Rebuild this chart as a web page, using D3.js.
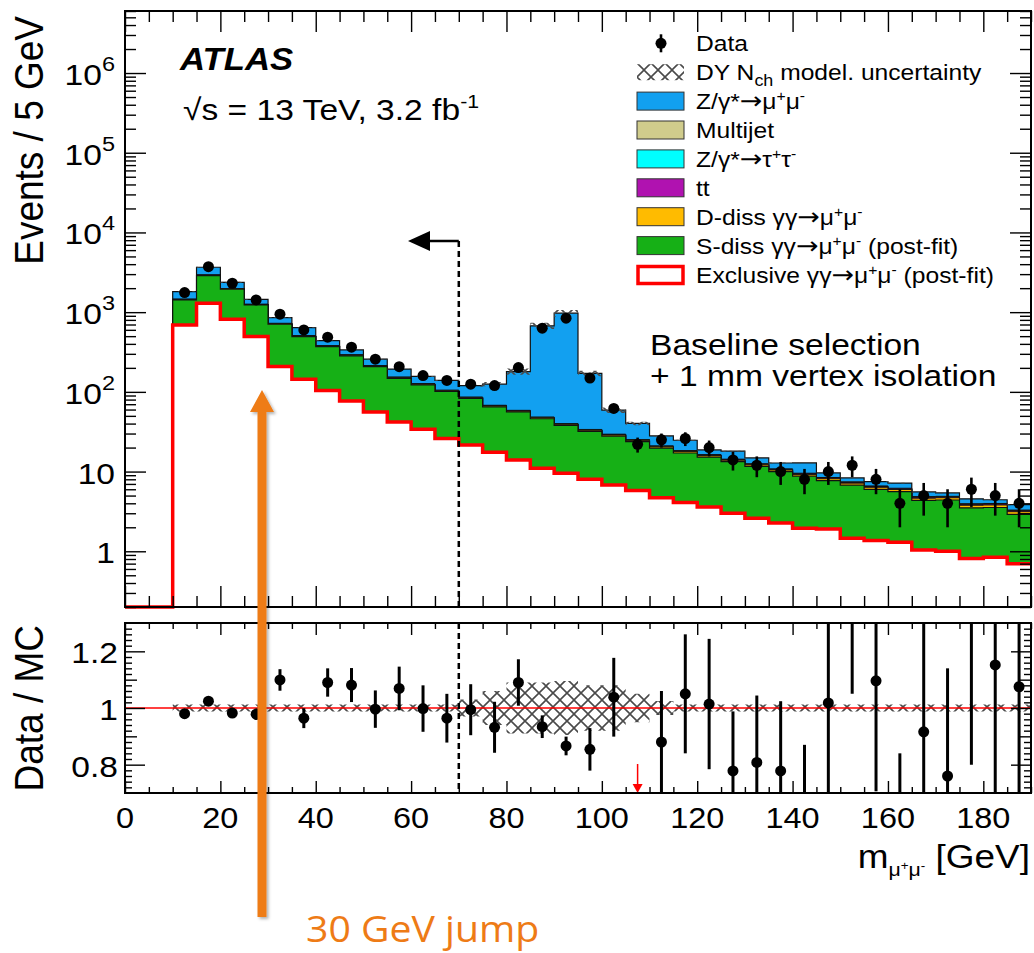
<!DOCTYPE html>
<html>
<head>
<meta charset="utf-8">
<script src="https://cdn.jsdelivr.net/npm/d3@7"></script>
<style>
  body { margin: 0; background: #fff; }
  svg { display: block; }
  text { font-family: 'Liberation Sans', Arial, Helvetica, sans-serif; fill: #000; }
</style>
</head>
<body>
<svg id="chart" width="1034" height="953"></svg>
<script>
// 5 GeV bins from 0 to 190 GeV
const binLow = d3.range(0, 190, 5);

// stacked MC contributions (events / 5 GeV), bottom of stack first
const exclusive = [0, 0, 692, 1290, 815, 495, 208, 144, 104, 77, 56, 42, 34, 26, 21.6, 17.5, 14, 11, 9.55, 8.0,
  6.8, 5.8, 4.7, 4.1, 3.6, 3.0, 2.6, 2.26, 1.95, 1.9, 1.46, 1.37, 1.3, 1.04, 1.0, 0.81, 0.84, 0.70];
const sDiss = [0, 0, 733, 1580, 1125, 735, 499, 349, 266, 206, 151, 106, 88, 75, 61, 47.5, 42, 35, 28.5, 24,
  21, 18, 15, 13, 11.6, 10.3, 9.0, 7.7, 6.8, 5.8, 5.3, 4.6, 4.3, 3.3, 3.4, 2.7, 2.7, 2.2];
const dDiss = [0, 0, 20, 40, 28, 18, 11, 8, 6, 5, 3.8, 2.9, 2.5, 2.2, 1.9, 1.6, 1.5, 1.3, 1.15, 1.0,
  0.95, 0.85, 0.75, 0.7, 0.65, 0.6, 0.55, 0.5, 0.47, 0.43, 0.4, 0.38, 0.35, 0.3, 0.3, 0.27, 0.27, 0.24];
const ttbar = [0, 0, 0.1, 0.15, 0.2, 0.2, 0.25, 0.3, 0.3, 0.3, 0.3, 0.3, 0.3, 0.3, 0.3, 0.3, 0.3, 0.28, 0.27, 0.26,
  0.25, 0.24, 0.23, 0.22, 0.21, 0.2, 0.19, 0.18, 0.17, 0.16, 0.15, 0.14, 0.13, 0.12, 0.11, 0.1, 0.1, 0.09];
const zTauTau = [0, 0, 3, 4, 4, 3.5, 3, 2.5, 2.2, 1.8, 1.5, 1.2, 1.0, 0.8, 0.6, 0.5, 0.4, 0.3, 0.25, 0.2,
  0.15, 0.12, 0.1, 0.08, 0.06, 0.05, 0.04, 0.04, 0.03, 0.03, 0.02, 0.02, 0.02, 0.02, 0.01, 0.01, 0.01, 0.01];
const multijet = [0, 0, 8, 12, 8, 5, 3, 2.5, 2, 1.5, 1.2, 1.0, 0.8, 0.7, 0.6, 0.5, 0.45, 0.4, 0.35, 0.3,
  0.3, 0.25, 0.22, 0.2, 0.18, 0.16, 0.15, 0.13, 0.12, 0.11, 0.1, 0.09, 0.08, 0.07, 0.07, 0.06, 0.06, 0.05];
const zMuMu = [0, 0, 354, 734, 390, 193, 131, 134, 59.5, 44.4, 43.2, 39.6, 29.4, 34, 33.6, 57.1, 121, 625, 930, 137,
  29.4, 15, 7.0, 6.4, 2.4, 3.7, 2.3, 2.0, 3.3, 1.2, 0.9, 0.9, 1.0, 0.7, 0.5, 0.6, 0.45, 0.55];

// relative DY Nch model uncertainty
const dyUnc = [0, 0, 0.012, 0.012, 0.012, 0.012, 0.012, 0.012, 0.012, 0.012, 0.012, 0.012, 0.012, 0.012, 0.03, 0.06,
  0.09, 0.09, 0.095, 0.08, 0.08, 0.05, 0.025, 0.012, 0.012, 0.012, 0.012, 0.012, 0.012, 0.012, 0.012, 0.012,
  0.012, 0.012, 0.012, 0.012, 0.012, 0.012];

// data
const dataVals = [null, null, 1760, 3720, 2305, 1425, 942, 598, 485, 364, 257, 207, 160, 139, 125, 120, 202, 629, 840, 149,
  62, 22, 25, 26, 20, 14, 12, 10, 8, 10, 12, 8, 4, 5, 4, 6, 5, 4];
const dataErr = [null, null, 42, 61, 48, 38, 31, 24, 22, 19, 16, 14.4, 12.6, 11.8, 11.2, 11, 14.2, 25, 29, 12.2,
  7.9, 4.7, 5, 5.1, 4.5, 3.7, 3.5, 3.2, 2.8, 3.2, 3.5, 2.8, 2, 2.2, 2, 2.4, 2.2, 2];

// data / MC ratio
const ratioVals = [null, null, 0.98, 1.024, 0.982, 0.978, 1.099, 0.964, 1.09, 1.081, 0.996, 1.069, 0.998, 0.964, 0.994, 0.932,
  1.09, 0.934, 0.866, 0.854, 1.038, 0.55, 0.88, 1.05, 1.014, 0.778, 0.808, 0.778, 0.63, 1.018, 1.52, 1.096,
  0.57, 0.916, 0.76, 1.4, 1.152, 1.075];
const ratioErr = [null, null, 0.015, 0.01, 0.012, 0.02, 0.038, 0.035, 0.05, 0.06, 0.066, 0.077, 0.082, 0.086, 0.09, 0.09,
  0.082, 0.04, 0.033, 0.075, 0.139, 0.12, 0.18, 0.21, 0.23, 0.21, 0.236, 0.246, 0.24, 0.33, 0.47, 0.39,
  0.27, 0.41, 0.38, 0.6, 0.53, 0.55];
const ratioArrows = [107.5];

const xMajor = [0, 20, 40, 60, 80, 100, 120, 140, 160, 180];
const yDecades = [1, 10, 1e2, 1e3, 1e4, 1e5, 1e6];
const ratioMajor = [0.8, 1.0, 1.2];
const ratioLabels = ['0.8', '1', '1.2'];

const SX = 1.12; // horizontal stretch of the original figure text

const svg = d3.select('#chart');
const defs = svg.append('defs');

const x = d3.scaleLinear().domain([0, 190]).range([125, 1031]);
const y = d3.scaleLog().domain([0.2, 6e6]).range([607, 11]);
const yr = d3.scaleLinear().domain([0.7, 1.3]).range([793, 623]);

// hatch pattern for the DY uncertainty
defs.append('pattern')
    .attr('id', 'hatch')
    .attr('patternUnits', 'userSpaceOnUse')
    .attr('width', 14).attr('height', 14)
  .append('path')
    .attr('d', 'M0,0L14,14M14,0L0,14')
    .attr('stroke', '#4a4a4a').attr('stroke-width', 1.6).attr('fill', 'none');

defs.append('clipPath').attr('id', 'clipMain')
  .append('rect').attr('x', 125).attr('y', 11).attr('width', 906).attr('height', 600);
defs.append('clipPath').attr('id', 'clipRatio')
  .append('rect').attr('x', 125).attr('y', 623).attr('width', 906).attr('height', 170);

const shadow = defs.append('filter').attr('id', 'shadow')
    .attr('x', '-50%').attr('y', '-10%').attr('width', '200%').attr('height', '120%');
shadow.append('feDropShadow').attr('dx', 2).attr('dy', 2).attr('stdDeviation', 1.5)
    .attr('flood-color', '#000').attr('flood-opacity', 0.3);

// text helper: parts are {t, fs, off, ff} with off = baseline offset (down positive)
function richText(g, tx, ty, parts, opt) {
  opt = opt || {};
  const size = opt.size || 20;
  let tr = `translate(${tx},${ty}) scale(${opt.sx || SX},1)`;
  if (opt.rotate) tr += ' rotate(-90)';
  const t = g.append('text')
      .attr('transform', tr)
      .attr('font-size', size)
      .attr('text-anchor', opt.anchor || 'start');
  if (opt.weight) t.attr('font-weight', opt.weight);
  if (opt.italic) t.attr('font-style', 'italic');
  if (opt.fill) t.style('fill', opt.fill);
  if (opt.family) t.style('font-family', opt.family);
  let cur = 0;
  parts.forEach(p => {
    if (typeof p === 'string') p = { t: p };
    const off = p.off || 0;
    const ts = t.append('tspan')
        .attr('dy', off - cur)
        .attr('font-size', p.fs || size)
        .text(p.t);
    if (p.ff) ts.style('font-family', p.ff);
    cur = off;
  });
  return t;
}
const ARROW = { t: '→', ff: "'DejaVu Sans', sans-serif", fs: 24 };

// ---------- main panel ----------
const main = svg.append('g').attr('clip-path', 'url(#clipMain)');

const layers = [
  { key: 'excl', values: exclusive, fill: '#ffffff', stroke: '#ff0000', sw: 3.5 },
  { key: 'sdiss', values: sDiss, fill: '#16b016', stroke: '#111', sw: 1.2 },
  { key: 'ddiss', values: dDiss, fill: '#ffbb00', stroke: '#111', sw: 1 },
  { key: 'tt', values: ttbar, fill: '#b012b0', stroke: '#111', sw: 1 },
  { key: 'ztt', values: zTauTau, fill: '#00ffff', stroke: '#111', sw: 1 },
  { key: 'mj', values: multijet, fill: '#d0cc8c', stroke: '#111', sw: 1 },
  { key: 'zmm', values: zMuMu, fill: '#12a0f0', stroke: '#111', sw: 1.2 }
];

// cumulative tops
let running = binLow.map(() => 0);
layers.forEach(l => {
  running = running.map((v, i) => v + l.values[i]);
  l.cum = running.slice();
});
const total = running;

const yc = v => y(Math.max(v, 0.2));
const line = d3.line().x(d => x(d[0])).y(d => yc(d[1]));

function stepPoints(vals) {
  const pts = [];
  vals.forEach((v, i) => {
    pts.push([binLow[i], v]);
    pts.push([binLow[i] + 5, v]);
  });
  return pts;
}

// draw from top of stack down so lower layers cover
layers.slice().reverse().forEach(l => {
  const pts = stepPoints(l.cum);
  const area = [[0, 0]].concat(pts, [[190, 0]]);
  main.append('path')
      .attr('d', line(area) + 'Z')
      .attr('fill', l.fill)
      .attr('stroke', 'none');
  main.append('path')
      .attr('d', line([[0, 0]].concat(pts)))
      .attr('fill', 'none')
      .attr('stroke', l.stroke)
      .attr('stroke-width', l.sw)
      .attr('stroke-linejoin', 'miter');
});

// uncertainty hatch on total
{
  const up = [], lo = [];
  binLow.forEach((b, i) => {
    if (total[i] <= 0) return;
    up.push([b, total[i] * (1 + dyUnc[i])], [b + 5, total[i] * (1 + dyUnc[i])]);
    lo.push([b, total[i] * (1 - dyUnc[i])], [b + 5, total[i] * (1 - dyUnc[i])]);
  });
  main.append('path')
      .attr('d', line(up.concat(lo.reverse())) + 'Z')
      .attr('fill', 'url(#hatch)');
}

// cut line at 70 GeV with arrow
svg.append('line')
    .attr('x1', x(70)).attr('x2', x(70))
    .attr('y1', 241).attr('y2', 607)
    .attr('stroke', '#000').attr('stroke-width', 2.5).attr('stroke-dasharray', '6,4');
svg.append('line')
    .attr('x1', x(70)).attr('x2', 426)
    .attr('y1', 241).attr('y2', 241)
    .attr('stroke', '#000').attr('stroke-width', 2.5);
svg.append('path')
    .attr('d', `M408,241L430,231L430,251Z`)
    .attr('fill', '#000');

// data points
const dataG = svg.append('g');
binLow.forEach((b, i) => {
  const v = dataVals[i];
  if (v == null) return;
  const cx = x(b + 2.5);
  dataG.append('line')
      .attr('x1', cx).attr('x2', cx)
      .attr('y1', yc(v - dataErr[i])).attr('y2', yc(v + dataErr[i]))
      .attr('stroke', '#000').attr('stroke-width', 2.6);
  dataG.append('circle').attr('cx', cx).attr('cy', y(v)).attr('r', 5.5).attr('fill', '#000');
});

// ---------- ratio panel ----------
const ratio = svg.append('g').attr('clip-path', 'url(#clipRatio)');
{
  const up = [], lo = [];
  binLow.forEach((b, i) => {
    if (total[i] <= 0) return;
    up.push([b, 1 + dyUnc[i]], [b + 5, 1 + dyUnc[i]]);
    lo.push([b, 1 - dyUnc[i]], [b + 5, 1 - dyUnc[i]]);
  });
  const rline = d3.line().x(d => x(d[0])).y(d => yr(d[1]));
  ratio.append('path')
      .attr('d', rline(up.concat(lo.reverse())) + 'Z')
      .attr('fill', 'url(#hatch)');
}
ratio.append('line')
    .attr('x1', x(0)).attr('x2', x(190))
    .attr('y1', yr(1)).attr('y2', yr(1))
    .attr('stroke', '#ff0000').attr('stroke-width', 1.6);
ratio.append('line')
    .attr('x1', x(70)).attr('x2', x(70))
    .attr('y1', 623).attr('y2', 793)
    .attr('stroke', '#000').attr('stroke-width', 2.5).attr('stroke-dasharray', '6,4');
binLow.forEach((b, i) => {
  const v = ratioVals[i];
  if (v == null) return;
  const cx = x(b + 2.5);
  ratio.append('line')
      .attr('x1', cx).attr('x2', cx)
      .attr('y1', yr(v - ratioErr[i])).attr('y2', yr(v + ratioErr[i]))
      .attr('stroke', '#000').attr('stroke-width', 3);
  ratio.append('circle').attr('cx', cx).attr('cy', yr(v)).attr('r', 5.5).attr('fill', '#000');
});
ratioArrows.forEach(m => {
  ratio.append('line')
      .attr('x1', x(m)).attr('x2', x(m))
      .attr('y1', 764).attr('y2', 786)
      .attr('stroke', '#ff0000').attr('stroke-width', 1.5);
  ratio.append('path')
      .attr('d', `M${x(m) - 5},784L${x(m) + 5},784L${x(m)},793Z`)
      .attr('fill', '#ff0000');
});

// ---------- axes / frames ----------
function ticks(axisGen, values, size, tx, ty) {
  svg.append('g')
      .attr('transform', `translate(${tx},${ty})`)
      .call(axisGen.tickValues(values).tickSize(size).tickFormat(''))
      .call(g => g.select('.domain').remove())
      .call(g => g.selectAll('line').attr('stroke', '#000').attr('stroke-width', 1.4));
}
const xMinor = d3.range(0, 191, 5).filter(v => v % 20 !== 0);
const yMinor = [];
[0.1, 1, 10, 1e2, 1e3, 1e4, 1e5, 1e6].forEach(d => {
  for (let k = 2; k <= 9; k++) {
    const v = k * d;
    if (v >= 0.2 && v <= 6e6) yMinor.push(v);
  }
});

ticks(d3.axisBottom(x), xMajor, -21, 0, 607);
ticks(d3.axisBottom(x), xMinor, -11, 0, 607);
ticks(d3.axisTop(x), xMajor, -21, 0, 11);
ticks(d3.axisTop(x), xMinor, -11, 0, 11);
ticks(d3.axisLeft(y), yDecades, -21, 125, 0);
ticks(d3.axisLeft(y), yMinor, -11, 125, 0);
ticks(d3.axisRight(y), yDecades, -21, 1031, 0);
ticks(d3.axisRight(y), yMinor, -11, 1031, 0);

const rMid = [0.9, 1.1];
const rMinor = d3.range(72, 130, 2).filter(v => v % 10 !== 0).map(v => v / 100);
ticks(d3.axisBottom(x), xMajor, -12, 0, 793);
ticks(d3.axisBottom(x), xMinor, -6, 0, 793);
ticks(d3.axisTop(x), xMajor, -12, 0, 623);
ticks(d3.axisTop(x), xMinor, -6, 0, 623);
ticks(d3.axisLeft(yr), ratioMajor, -20, 125, 0);
ticks(d3.axisLeft(yr), rMid, -12, 125, 0);
ticks(d3.axisLeft(yr), rMinor, -7, 125, 0);
ticks(d3.axisRight(yr), ratioMajor, -20, 1031, 0);
ticks(d3.axisRight(yr), rMid, -12, 1031, 0);
ticks(d3.axisRight(yr), rMinor, -7, 1031, 0);

svg.append('rect').attr('x', 125).attr('y', 11).attr('width', 906).attr('height', 596)
    .attr('fill', 'none').attr('stroke', '#000').attr('stroke-width', 2);
svg.append('rect').attr('x', 125).attr('y', 623).attr('width', 906).attr('height', 170)
    .attr('fill', 'none').attr('stroke', '#000').attr('stroke-width', 2);

// tick labels
const labels = svg.append('g');
xMajor.forEach(v => richText(labels, x(v), 828, [String(v)], { size: 29, anchor: 'middle' }));
yDecades.forEach(v => {
  const p = Math.round(Math.log10(v));
  const parts = p === 0 ? ['1'] : p === 1 ? ['10'] : ['10', { t: String(p), fs: 21, off: -14 }];
  richText(labels, 115, y(v) + 12, parts, { size: 30, anchor: 'end' });
});
ratioMajor.forEach((v, i) => richText(labels, 118, yr(v) + 12, [ratioLabels[i]], { size: 30, anchor: 'end' }));

// axis titles
richText(svg, 43, 16, ['Events / 5 GeV'], { size: 37, anchor: 'end', rotate: true });
richText(svg, 43, 625, ['Data / MC'], { size: 37, anchor: 'end', rotate: true });
richText(svg, 1030, 868, [
  'm', { t: 'μ', fs: 19, off: 8 }, { t: '+', fs: 12, off: 2 }, { t: 'μ', fs: 19, off: 8 }, { t: '-', fs: 12, off: 2 },
  { t: ' [GeV]', off: 0 }
], { size: 33, anchor: 'end' });

// labels in plot
richText(svg, 180, 70, ['ATLAS'], { size: 31, weight: 'bold', italic: true });
richText(svg, 183, 120, ['√s = 13 TeV, 3.2 fb', { t: '-1', fs: 19, off: -12 }], { size: 30 });
richText(svg, 650, 355, ['Baseline selection'], { size: 30 });
richText(svg, 650, 386, ['+ 1 mm vertex isolation'], { size: 30 });

// ---------- legend ----------
const mumu = [{ t: 'μ', off: 0 }, { t: '+', fs: 14, off: -8 }, { t: 'μ', off: 0 }, { t: '-', fs: 14, off: -8 }];
const legendItems = [
  { kind: 'data', parts: ['Data'] },
  { kind: 'hatch', parts: ['DY N', { t: 'ch', fs: 16, off: 6 }, { t: ' model. uncertainty', off: 0 }] },
  { kind: 'box', fill: '#12a0f0', parts: ['Z/γ*', ARROW].concat(mumu) },
  { kind: 'box', fill: '#d0cc8c', parts: ['Multijet'] },
  { kind: 'box', fill: '#00ffff', parts: ['Z/γ*', ARROW, { t: 'τ', off: 0 }, { t: '+', fs: 14, off: -8 }, { t: 'τ', off: 0 }, { t: '-', fs: 14, off: -8 }] },
  { kind: 'box', fill: '#b012b0', parts: ['tt'] },
  { kind: 'box', fill: '#ffbb00', parts: ['D-diss γγ', ARROW].concat(mumu) },
  { kind: 'box', fill: '#16b016', parts: ['S-diss γγ', ARROW].concat(mumu, [{ t: ' (post-fit)', off: 0 }]) },
  { kind: 'excl', parts: ['Exclusive γγ', ARROW].concat(mumu, [{ t: ' (post-fit)', off: 0 }]) }
];
const leg = svg.append('g');
legendItems.forEach((it, i) => {
  const cy = 43.3 + i * 28.9;
  if (it.kind === 'data') {
    leg.append('line').attr('x1', 661).attr('x2', 661).attr('y1', cy - 9).attr('y2', cy + 9)
        .attr('stroke', '#000').attr('stroke-width', 2.6);
    leg.append('circle').attr('cx', 661).attr('cy', cy).attr('r', 5.5).attr('fill', '#000');
  } else if (it.kind === 'hatch') {
    leg.append('rect').attr('x', 637).attr('y', cy - 8).attr('width', 47).attr('height', 16)
        .attr('fill', 'url(#hatch)');
  } else if (it.kind === 'excl') {
    leg.append('rect').attr('x', 638).attr('y', cy - 8).attr('width', 45).attr('height', 17)
        .attr('fill', '#fff').attr('stroke', '#ff0000').attr('stroke-width', 3.5);
  } else {
    leg.append('rect').attr('x', 637).attr('y', cy - 9).attr('width', 47).attr('height', 18)
        .attr('fill', it.fill).attr('stroke', '#333').attr('stroke-width', 1);
  }
  richText(leg, 696, cy + 8, it.parts, { size: 22 });
});

// ---------- annotation ----------
const orange = '#ee7b16';
svg.append('path')
    .attr('d', 'M257.5,917L257.5,412L250,412L262,390L274,412L266.5,412L266.5,917Z')
    .attr('fill', orange)
    .attr('filter', 'url(#shadow)');
richText(svg, 306, 942, ['30 GeV jump'], { size: 37, sx: 1.06, fill: orange, family: "'Open Sans', 'Noto Sans', sans-serif" });
</script>
</body>
</html>
